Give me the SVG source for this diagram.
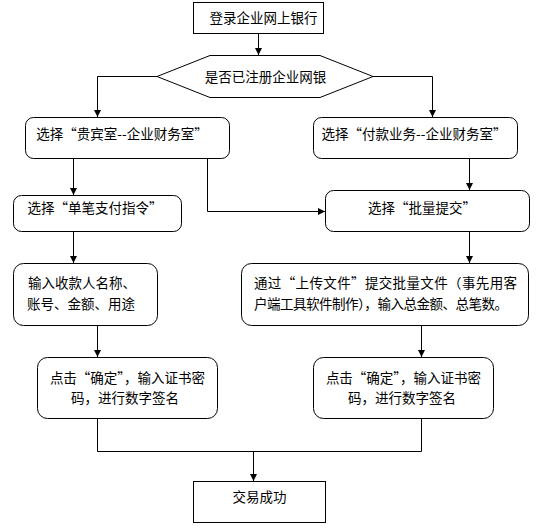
<svg xmlns="http://www.w3.org/2000/svg" width="555" height="532" viewBox="0 0 555 532">
<style>
.b{fill:#fff;stroke:#000;stroke-width:1}
.t{font-family:"Noto Sans CJK SC","Noto Sans",sans-serif;font-size:13.5px;fill:#000}
.m{text-anchor:middle}
.c{fill:none;stroke:#000;stroke-width:1}
</style>
<defs>
<marker id="a" markerWidth="8" markerHeight="8" refX="7" refY="4" orient="auto" markerUnits="userSpaceOnUse">
<path d="M0,0.5 L7,4 L0,7.5 Z" fill="#000"/>
</marker>
</defs>
<rect width="555" height="532" fill="#fff"/>
<g id="connectors">
<path class="c" d="M258.5,34 V55" marker-end="url(#a)"/>
<path class="c" d="M157,76.5 H97.5 V117" marker-end="url(#a)"/>
<path class="c" d="M373,76.5 H432.5 V117" marker-end="url(#a)"/>
<path class="c" d="M73.5,159 V195" marker-end="url(#a)"/>
<path class="c" d="M207.5,159 V211.5 H325" marker-end="url(#a)"/>
<path class="c" d="M469.5,159 V190" marker-end="url(#a)"/>
<path class="c" d="M73.5,232 V263" marker-end="url(#a)"/>
<path class="c" d="M469.5,232 V263" marker-end="url(#a)"/>
<path class="c" d="M97.5,326 V357" marker-end="url(#a)"/>
<path class="c" d="M421.5,326 V357" marker-end="url(#a)"/>
<path class="c" d="M97.5,419 V451.5 H421.5 V419"/>
<path class="c" d="M253.5,451.5 V481" marker-end="url(#a)"/>
</g>
<g id="n1"><rect class="b" x="193.5" y="2.5" width="130" height="31"/><text class="t m" x="263.5" y="23">登录企业网上银行</text></g>
<g id="n2"><polygon class="b" points="157,76.5 210,55.5 320,55.5 373,76.5 320,97.5 210,97.5"/><text class="t m" x="265.5" y="81.5">是否已注册企业网银</text></g>
<g id="n3"><rect class="b" x="25.5" y="117.5" width="204" height="41" rx="8"/><text class="t m" x="122" y="138.5">选择“贵宾室--企业财务室”</text></g>
<g id="n4"><rect class="b" x="313.5" y="117.5" width="204" height="41" rx="8"/><text class="t m" x="414" y="138.5">选择“付款业务--企业财务室”</text></g>
<g id="n5"><rect class="b" x="13.5" y="195.5" width="168" height="36" rx="8"/><text class="t m" x="95" y="212.5">选择“单笔支付指令”</text></g>
<g id="n6"><rect class="b" x="325.5" y="190.5" width="204" height="41" rx="8"/><text class="t m" x="422" y="212.5">选择“批量提交”</text></g>
<g id="n7"><rect class="b" x="13.5" y="263.5" width="144" height="62" rx="10"/><text class="t" x="28" y="287.5">输入收款人名称、</text><text class="t" x="27" y="308.5">账号、金额、用途</text></g>
<g id="n8"><rect class="b" x="241.5" y="263.5" width="287" height="62" rx="10"/><text class="t" x="254" y="287.5" textLength="263" lengthAdjust="spacing">通过“上传文件”提交批量文件（事先用客</text><text class="t" x="254" y="308.5" textLength="254" lengthAdjust="spacing">户端工具软件制作），输入总金额、总笔数。</text></g>
<g id="n9"><rect class="b" x="37.5" y="357.5" width="180" height="61" rx="10"/><text class="t m" x="127.5" y="382.5">点击“确定”，输入证书密</text><text class="t m" x="125" y="402.5">码，进行数字签名</text></g>
<g id="n10"><rect class="b" x="313.5" y="357.5" width="180" height="61" rx="10"/><text class="t m" x="403.5" y="382.5">点击“确定”，输入证书密</text><text class="t m" x="402" y="402.5">码，进行数字签名</text></g>
<g id="n11"><rect class="b" x="193.5" y="481.5" width="132" height="41"/><text class="t m" x="259.5" y="502">交易成功</text></g>
</svg>
